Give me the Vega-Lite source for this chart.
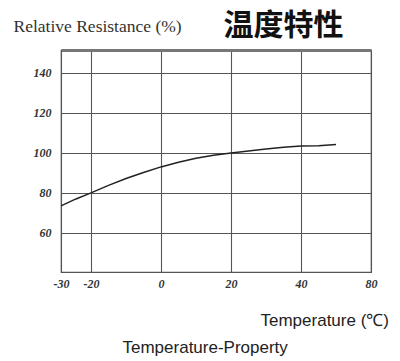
{
  "$schema": "https://vega.github.io/schema/vega-lite/v6.json",
  "autosize": "none",
  "width": 310,
  "height": 222,
  "padding": {"left": 61, "top": 50, "right": 29, "bottom": 89},
  "background": "white",
  "config": {
    "view": {"stroke": "#555", "strokeWidth": 1.2},
    "axis": {
      "labelFont": "Liberation Serif",
      "labelFontStyle": "italic",
      "labelFontWeight": "bold",
      "labelFontSize": 12,
      "labelColor": "#333",
      "labelFlush": false,
      "labelOverlap": false,
      "gridColor": "#555",
      "gridOpacity": 1,
      "gridWidth": 1.1,
      "domainColor": "#555",
      "ticks": false,
      "tickSize": 0
    }
  },
  "data": {
    "values": [
      {"t": -30, "r": 73.5},
      {"t": -25, "r": 77.0},
      {"t": -20, "r": 80.0},
      {"t": -15, "r": 83.8},
      {"t": -10, "r": 87.2},
      {"t": -5, "r": 90.2},
      {"t": 0, "r": 93.0},
      {"t": 5, "r": 95.3},
      {"t": 10, "r": 97.3},
      {"t": 15, "r": 98.8},
      {"t": 20, "r": 100.0},
      {"t": 25, "r": 101.0},
      {"t": 30, "r": 102.0},
      {"t": 35, "r": 102.8},
      {"t": 40, "r": 103.4},
      {"t": 45, "r": 103.6},
      {"t": 50, "r": 104.2}
    ]
  },
  "layer": [
    {
      "mark": {"type": "line", "color": "#222", "strokeWidth": 1.5},
      "encoding": {
        "x": {
          "field": "t",
          "type": "quantitative",
          "scale": {"domain": [-30, -20, 60], "range": [0, 30, 310], "nice": false, "zero": false},
          "axis": {
            "orient": "bottom",
            "values": [-30, -20, 0, 20, 40, 60],
            "labelExpr": "datum.value == 60 ? '80' : '' + datum.value",
            "labelPadding": 6,
            "grid": true,
            "domain": true,
            "title": "Temperature (℃)",
            "titleFont": "Liberation Sans",
            "titleFontSize": 17,
            "titleFontWeight": "normal",
            "titleColor": "#222",
            "titleAngle": 0,
            "titleAlign": "left",
            "titleBaseline": "middle",
            "titleX": 199,
            "titleY": 48
          }
        },
        "y": {
          "field": "r",
          "type": "quantitative",
          "scale": {"domain": [40.5, 151.4], "nice": false, "zero": false},
          "axis": {
            "orient": "left",
            "values": [60, 80, 100, 120, 140],
            "labelPadding": 10,
            "grid": true,
            "domain": true,
            "title": "Relative Resistance (%)",
            "titleFont": "Liberation Serif",
            "titleFontSize": 17.5,
            "titleFontWeight": "normal",
            "titleColor": "#333",
            "titleAngle": 0,
            "titleAlign": "left",
            "titleBaseline": "middle",
            "titleX": -48,
            "titleY": -24
          }
        }
      }
    },
    {
      "mark": {"type": "line", "strokeOpacity": 0},
      "encoding": {
        "x": {
          "field": "t",
          "type": "quantitative",
          "axis": {
            "orient": "top",
            "labels": false,
            "grid": false,
            "domain": true,
            "domainWidth": 3,
            "domainColor": "#777",
            "title": "Temperature-Property",
            "titleFont": "Liberation Sans",
            "titleFontSize": 17,
            "titleFontWeight": "normal",
            "titleColor": "#222",
            "titleAngle": 0,
            "titleAlign": "left",
            "titleBaseline": "middle",
            "titleX": 61,
            "titleY": 297
          }
        },
        "y": {
          "field": "r",
          "type": "quantitative",
          "axis": {
            "orient": "right",
            "labels": false,
            "grid": false,
            "domain": false,
            "title": "温度特性",
            "titleFont": "Noto Sans CJK SC",
            "titleFontSize": 30,
            "titleFontWeight": "bold",
            "titleColor": "#111",
            "titleAngle": 0,
            "titleAlign": "left",
            "titleBaseline": "middle",
            "titleX": -148,
            "titleY": -25
          }
        }
      }
    }
  ],
  "resolve": {"axis": {"x": "independent", "y": "independent"}}
}
